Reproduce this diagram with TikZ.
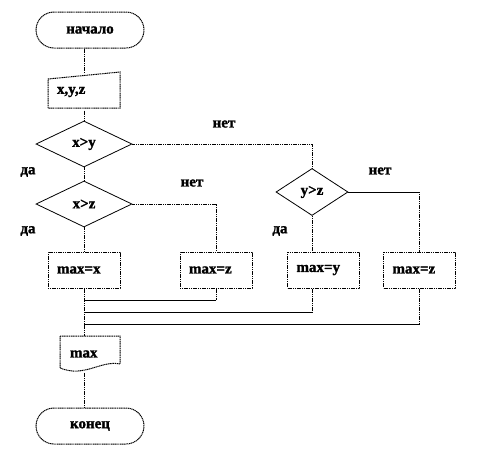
\documentclass[tikz,border=0pt]{standalone}
\usepackage{fontspec}
\setmainfont{Liberation Serif}[BoldFeatures={FakeBold=1.5}]
\usetikzlibrary{shapes.geometric,shapes.misc,backgrounds,calc}
\begin{document}
\begin{tikzpicture}[x=1pt,y=-1pt,line width=1pt,
  every node/.style={font=\bfseries\fontsize{15}{16}\selectfont},
  dots/.style={dash pattern=on 1.2pt off 0.6pt},
  term/.style={rounded rectangle, draw, dots, fill=white, minimum width=108pt, minimum height=36pt, inner sep=0pt},
  proc/.style={rectangle, draw, dots, fill=white, minimum height=36pt, text width=54pt, inner xsep=9pt, inner ysep=0pt, align=left},
  dec/.style={diamond, draw, line width=0.8pt, fill=white, inner sep=0pt, aspect=2},
  shapeline/.style={draw, dots, fill=white},
  flow/.style={dots},
  merge/.style={solid},
  lbl/.style={inner sep=0pt}]
\useasboundingbox (0,0) rectangle (492,456);

% shapes drawn as paths
\path[shapeline] (48,108) -- (48,79) -- (120,72) -- (120,108) -- cycle;
\path[shapeline] (60,336) -- (120,336) -- (120,364) .. controls (100,360) and (85,378) .. (60,368) -- cycle;

% nodes
\node[term] (start) at (90,30) {начало};
\node[proc, draw=none, fill=none] (in) at (84,92) {x,y,z};
\node[dec, minimum width=96pt, minimum height=46pt] (d1) at (84,144) {x>y};
\node[dec, minimum width=96pt, minimum height=46pt] (d2) at (84,204) {x>z};
\node[dec, minimum width=72pt, minimum height=47pt] (d3) at (312,192) {y>z};
\node[proc] (b1) at (84,270) {max=x};
\node[proc] (b2) at (216,270) {max=z};
\node[proc] (b3) at (323.5,270) {max=y};
\node[proc] (b4) at (419.5,270) {max=z};
\node[proc, draw=none, fill=none, text width=40pt, inner xsep=10pt] (out) at (90,354) {max};
\node[term] (end) at (90,426) {конец};

% labels
\node[lbl] (n1) at (224,124) {нет};
\node[lbl] (y1) at (28,172) {да};
\node[lbl] (n2) at (192,183) {нет};
\node[lbl] (y2) at (28,231) {да};
\node[lbl] (n3) at (380,171) {нет};
\node[lbl] (y3) at (280,231) {да};

\coordinate (m1) at (84,300);
\coordinate (m2) at (84,312);
\coordinate (m3) at (84,324);

\begin{scope}[on background layer]
\draw[flow] (start.south -| in.north) -- (in.north);
\draw[flow] (in.south) -- (d1.north);
\draw[flow] (d1.south) -- (d2.north);
\draw[flow] (d1.east) -| (d3.north);
\draw[flow] (d2.south) -- (b1.north);
\draw[flow] (d2.east) -| (b2.north);
\draw[merge] (d3.east) -- (d3.east -| b4.north);
\draw[flow] (d3.east -| b4.north) -- (b4.north);
\draw[flow] (d3.south) -- (d3.south |- b3.north);
\draw[flow] (b1.south) -- (b1.south |- out.north);
\draw[flow] (b1.south |- out.south) -- (b1.south |- end.north);
\draw[flow] (b2.south) -- (b2.south |- m1);
\draw[merge] (b2.south |- m1) -- (m1);
\draw[flow] (d3.south |- b3.south) -- (d3.south |- m2);
\draw[merge] (d3.south |- m2) -- (m2);
\draw[flow] (b4.south) -- (b4.south |- m3);
\draw[merge] (b4.south |- m3) -- (m3);
\end{scope}
\end{tikzpicture}
\end{document}
